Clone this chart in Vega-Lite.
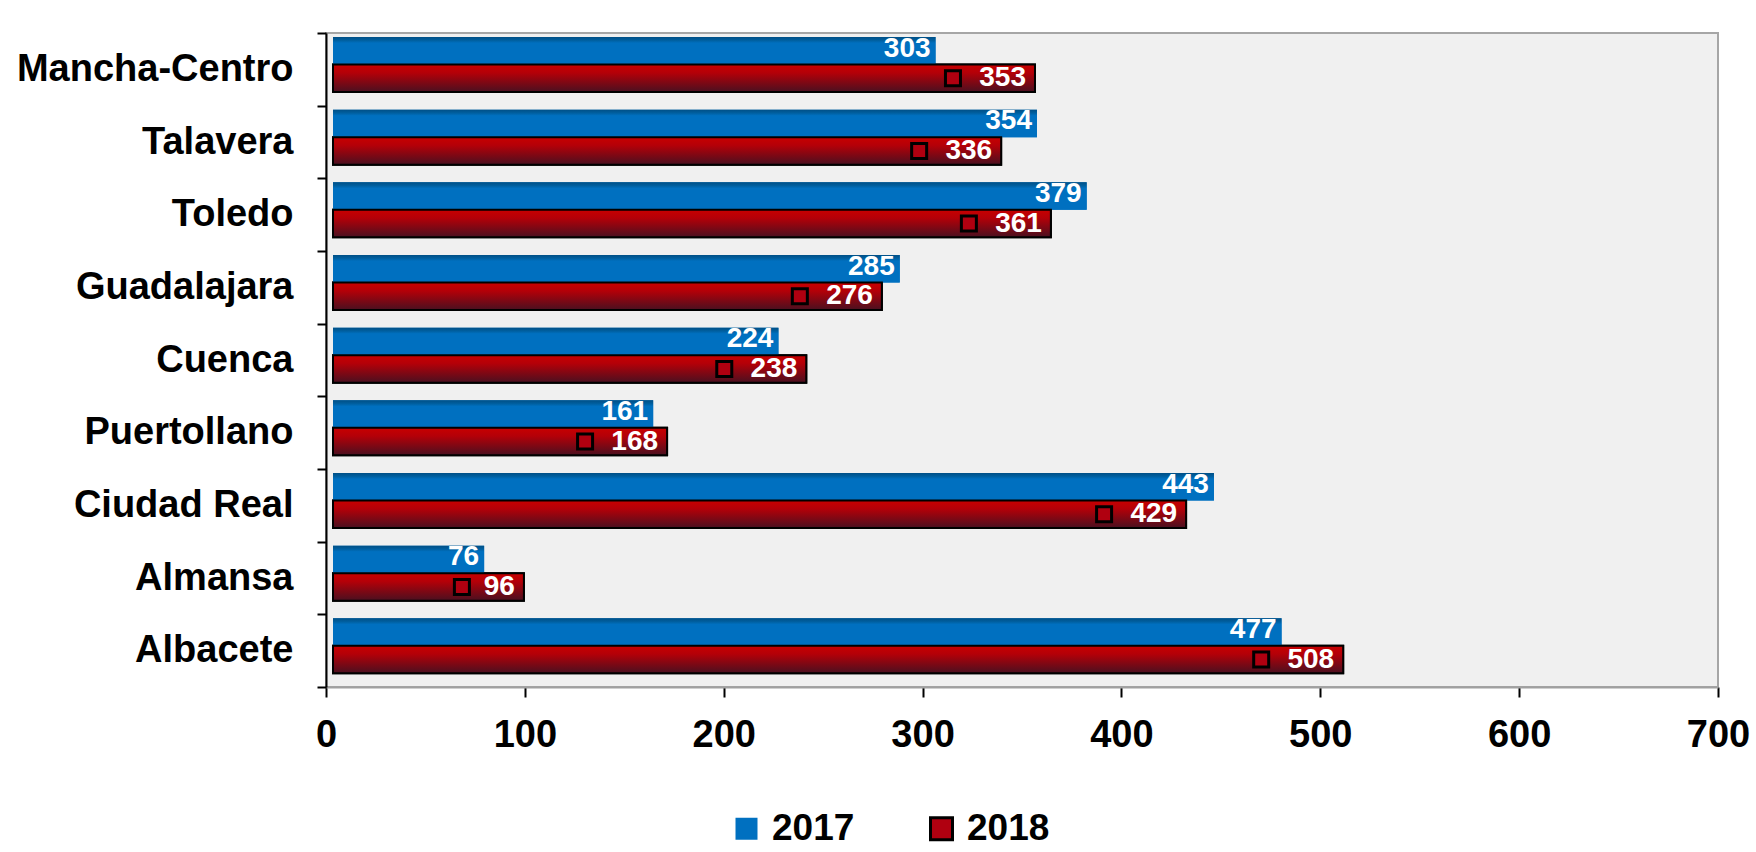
{
  "$schema": "https://vega.github.io/schema/vega-lite/v6.json",
  "autosize": {"type": "none"},
  "width": 1392,
  "height": 654,
  "padding": {"left": 326, "top": 33, "right": 38, "bottom": 165},
  "background": "white",
  "config": {
    "view": {"fill": "#f0f0f0", "stroke": "#a6a6a6", "strokeWidth": 2},
    "font": "Liberation Sans"
  },
  "data": {
    "values": [
      {"region": "Mancha-Centro", "year": "2017", "value": 303},
      {"region": "Mancha-Centro", "year": "2018", "value": 353},
      {"region": "Talavera", "year": "2017", "value": 354},
      {"region": "Talavera", "year": "2018", "value": 336},
      {"region": "Toledo", "year": "2017", "value": 379},
      {"region": "Toledo", "year": "2018", "value": 361},
      {"region": "Guadalajara", "year": "2017", "value": 285},
      {"region": "Guadalajara", "year": "2018", "value": 276},
      {"region": "Cuenca", "year": "2017", "value": 224},
      {"region": "Cuenca", "year": "2018", "value": 238},
      {"region": "Puertollano", "year": "2017", "value": 161},
      {"region": "Puertollano", "year": "2018", "value": 168},
      {"region": "Ciudad Real", "year": "2017", "value": 443},
      {"region": "Ciudad Real", "year": "2018", "value": 429},
      {"region": "Almansa", "year": "2017", "value": 76},
      {"region": "Almansa", "year": "2018", "value": 96},
      {"region": "Albacete", "year": "2017", "value": 477},
      {"region": "Albacete", "year": "2018", "value": 508}
    ]
  },
  "encoding": {
    "y": {
      "field": "region",
      "type": "nominal",
      "sort": ["Mancha-Centro", "Talavera", "Toledo", "Guadalajara", "Cuenca", "Puertollano", "Ciudad Real", "Almansa", "Albacete"],
      "scale": {"paddingInner": 0, "paddingOuter": 0},
      "axis": {
        "title": null,
        "labelFontSize": 38,
        "labelFontWeight": "bold",
        "labelColor": "black",
        "labelLimit": 0,
        "tickSize": 9,
        "tickWidth": 2,
        "tickColor": "black",
        "domainColor": "black",
        "domainWidth": 2,
        "labelPadding": 24,
        "tickBand": "extent"
      }
    },
    "yOffset": {
      "field": "year",
      "type": "nominal",
      "sort": ["2017", "2018"],
      "scale": {"paddingInner": 0, "paddingOuter": 0.32, "align": 0.226}
    },
    "x": {
      "field": "value",
      "type": "quantitative",
      "scale": {"domain": [0, 700], "nice": false},
      "axis": {
        "title": null,
        "values": [0, 100, 200, 300, 400, 500, 600, 700],
        "labelFontSize": 38,
        "labelFontWeight": "bold",
        "labelColor": "black",
        "tickSize": 10,
        "tickWidth": 2,
        "tickColor": "black",
        "domainColor": "#a0a0a0",
        "domainWidth": 2,
        "grid": false,
        "labelPadding": 19,
        "labelFlush": false
      }
    }
  },
  "layer": [
    {
      "mark": {"type": "bar", "xOffset": 7, "strokeWidth": 2},
      "encoding": {
        "color": {
          "field": "year",
          "type": "nominal",
          "scale": {"domain": ["2017", "2018"], "range": ["#0070c0", "#b00010"]},
          "legend": {
            "orient": "none",
            "legendX": 402,
            "legendY": 777,
            "direction": "horizontal",
            "title": null,
            "symbolType": "square",
            "symbolSize": 484,
            "symbolStrokeWidth": 3,
            "labelFontSize": 37,
            "labelFontWeight": "bold",
            "labelColor": "black",
            "labelOffset": 7,
            "columnPadding": 68,
            "padding": 0
          }
        },
        "stroke": {
          "field": "year",
          "type": "nominal",
          "scale": {"domain": ["2017", "2018"], "range": ["transparent", "black"]},
          "legend": {
            "orient": "none",
            "legendX": 402,
            "legendY": 777,
            "direction": "horizontal",
            "title": null,
            "symbolType": "square",
            "symbolSize": 484,
            "symbolStrokeWidth": 3,
            "labelFontSize": 37,
            "labelFontWeight": "bold",
            "labelColor": "black",
            "labelOffset": 7,
            "columnPadding": 68,
            "padding": 0
          }
        }
      }
    },
    {
      "transform": [{"filter": "datum.year == '2017'"}],
      "mark": {
        "type": "bar",
        "xOffset": 7,
        "fill": {
          "gradient": "linear",
          "x1": 0, "y1": 0, "x2": 0, "y2": 1,
          "stops": [
            {"offset": 0, "color": "#004f86"},
            {"offset": 0.12, "color": "#005f9f"},
            {"offset": 0.22, "color": "#0070c0"},
            {"offset": 1, "color": "#0070c0"}
          ]
        }
      }
    },
    {
      "transform": [{"filter": "datum.year == '2018'"}],
      "mark": {
        "type": "bar",
        "xOffset": 7,
        "stroke": "black",
        "strokeWidth": 2,
        "fill": {
          "gradient": "linear",
          "x1": 0, "y1": 0, "x2": 0, "y2": 1,
          "stops": [
            {"offset": 0, "color": "#c80000"},
            {"offset": 0.3, "color": "#b40008"},
            {"offset": 1, "color": "#4a1020"}
          ]
        }
      }
    },
    {
      "transform": [{"filter": "datum.year == '2017'"}],
      "mark": {
        "type": "text",
        "align": "right",
        "baseline": "middle",
        "dx": 2,
        "dy": -2,
        "fontSize": 28,
        "fontWeight": "bold",
        "color": "white"
      },
      "encoding": {"text": {"field": "value", "type": "quantitative"}}
    },
    {
      "transform": [{"filter": "datum.year == '2018'"}],
      "mark": {
        "type": "text",
        "align": "right",
        "baseline": "middle",
        "dx": -2,
        "dy": 0,
        "fontSize": 28,
        "fontWeight": "bold",
        "color": "white"
      },
      "encoding": {"text": {"field": "value", "type": "quantitative"}}
    },
    {
      "transform": [{"filter": "datum.year == '2018' && datum.value >= 100"}],
      "mark": {
        "type": "point",
        "shape": "square",
        "size": 225,
        "filled": true,
        "fill": "#b00010",
        "stroke": "black",
        "strokeWidth": 3,
        "opacity": 1,
        "xOffset": -75
      }
    },
    {
      "transform": [{"filter": "datum.year == '2018' && datum.value < 100"}],
      "mark": {
        "type": "point",
        "shape": "square",
        "size": 225,
        "filled": true,
        "fill": "#b00010",
        "stroke": "black",
        "strokeWidth": 3,
        "opacity": 1,
        "xOffset": -55
      }
    }
  ]
}
